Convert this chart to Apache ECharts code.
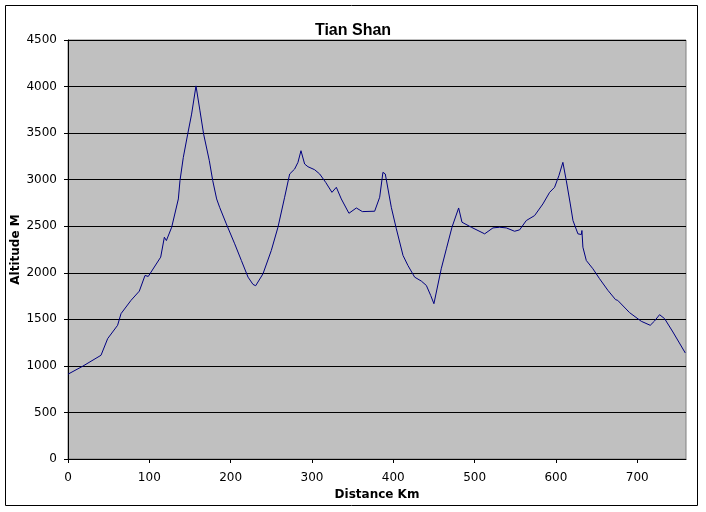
<!DOCTYPE html>
<html>
<head>
<meta charset="utf-8">
<script src="https://cdn.jsdelivr.net/npm/echarts@6/dist/echarts.min.js"></script>
<style>
html,body{margin:0;padding:0;background:#fff;}
#c{width:706px;height:512px;}
</style>
</head>
<body>
<div id="c"></div>
<script>
var distanceKm = [0, 18, 40.6, 48.8, 61, 65.2, 77.5, 87.7, 94.7, 98.7, 114, 118.5, 121, 127.5, 135.7, 137.7, 141.8, 147.2, 152, 157.4,
  162.3, 166.8, 173.8, 178, 182.8, 186.5, 194.7, 205, 213.2, 221.4, 227.5, 230.8, 239.8, 250, 258.2, 266.4, 272.6, 278.7, 282.8, 286.5,
  291, 295.1, 303.3, 309.5, 316.9, 324.6, 330, 336.1, 345.5, 354.6, 362, 377.1, 383.3, 387.3, 390.2, 397.6, 403.8, 412, 418, 426.3,
  434.5, 440.7, 446, 450, 452, 459, 465.3, 472.2, 480.4, 484.5, 496, 512.4, 522.6, 530.8, 539, 549.2, 555.4, 563.6, 573.8, 584,
  592.3, 598.4, 603.7, 608.6, 612.8, 617.7, 621, 627.1, 631.3, 632, 633.2, 637.4, 645.5, 653.7, 664, 673.4, 676, 690.6, 705, 716,
  721.3, 727.5, 733.7, 743.9, 759.1];
var altitudeM = [911, 996, 1114, 1293, 1436, 1561, 1704, 1803, 1971, 1961, 2168, 2382, 2346, 2489, 2793, 2989, 3239, 3489, 3704, 4007,
  3739, 3489, 3204, 2989, 2793, 2703, 2525, 2311, 2132, 1953, 1875, 1861, 1989, 2239, 2489, 2811, 3061, 3114, 3186, 3311,
  3168, 3139, 3107, 3061, 2971, 2864, 2918, 2793, 2639, 2696, 2657, 2661, 2811, 3079, 3061, 2703, 2472, 2186, 2079, 1953,
  1911, 1864, 1757, 1668, 1675, 2043, 2257, 2489, 2696, 2543, 2489, 2418, 2482, 2489, 2482, 2446, 2461, 2561, 2614, 2739,
  2864, 2918, 3043, 3186, 2989, 2739, 2561, 2418, 2411, 2454, 2275, 2132, 2043, 1936, 1811, 1711, 1704, 1572, 1479, 1436,
  1482, 1550, 1507, 1364, 1139];
var xTicks = [0, 100, 200, 300, 400, 500, 600, 700];
var yTicks = [0, 500, 1000, 1500, 2000, 2500, 3000, 3500, 4000, 4500];

var font = '"DejaVu Sans", "Liberation Sans", Arial, sans-serif';
var titleFont = '"Liberation Sans", Arial, sans-serif';
var points = distanceKm.map(function (d, i) { return [d, altitudeM[i]]; });
var plain = function (v) { return String(v); };

var chart = echarts.init(document.getElementById('c'), null, {renderer: 'canvas'});
chart.setOption({
  animation: false,
  backgroundColor: '#ffffff',
  title: {
    text: 'Tian Shan',
    left: 'center',
    top: 18,
    textStyle: {fontFamily: titleFont, fontSize: 16, fontWeight: 'bold', color: '#000'}
  },
  graphic: [{
    type: 'rect',
    shape: {x: 5.5, y: 5.5, width: 692, height: 500},
    style: {fill: 'none', stroke: '#000', lineWidth: 1},
    silent: true,
    z: -1
  }],
  grid: {
    left: 68, top: 40, width: 618, height: 419,
    outerBoundsMode: 'none',
    containLabel: false,
    show: true, backgroundColor: '#c0c0c0', borderColor: '#808080', borderWidth: 1
  },
  xAxis: {
    type: 'value',
    min: 0, max: 760, interval: 100,
    name: 'Distance Km',
    nameLocation: 'middle',
    nameGap: 30,
    nameMoveOverlap: false,
    nameTextStyle: {fontFamily: font, fontSize: 12, fontWeight: 'bold', color: '#000'},
    axisLine: {show: true, lineStyle: {color: '#000', width: 1}},
    axisTick: {show: true, length: 4, customValues: xTicks, lineStyle: {color: '#000'}},
    axisLabel: {customValues: xTicks, formatter: plain, margin: 13, fontFamily: font, fontSize: 12, color: '#000'},
    splitLine: {show: false}
  },
  yAxis: {
    type: 'value',
    min: 0, max: 4500, interval: 500,
    name: 'Altitude M',
    nameLocation: 'middle',
    nameGap: 46,
    nameRotate: 90,
    nameMoveOverlap: false,
    nameTextStyle: {fontFamily: font, fontSize: 12, fontWeight: 'bold', color: '#000'},
    axisLine: {show: true, lineStyle: {color: '#000', width: 1}},
    axisTick: {show: true, length: 4, lineStyle: {color: '#000'}},
    axisLabel: {formatter: plain, margin: 11, fontFamily: font, fontSize: 12, color: '#000'},
    splitLine: {show: true, lineStyle: {color: '#000', width: 1}}
  },
  series: [{
    type: 'line',
    data: points,
    showSymbol: false,
    smooth: false,
    lineStyle: {color: '#000080', width: 1},
    itemStyle: {color: '#000080'}
  }]
});
</script>
</body>
</html>
